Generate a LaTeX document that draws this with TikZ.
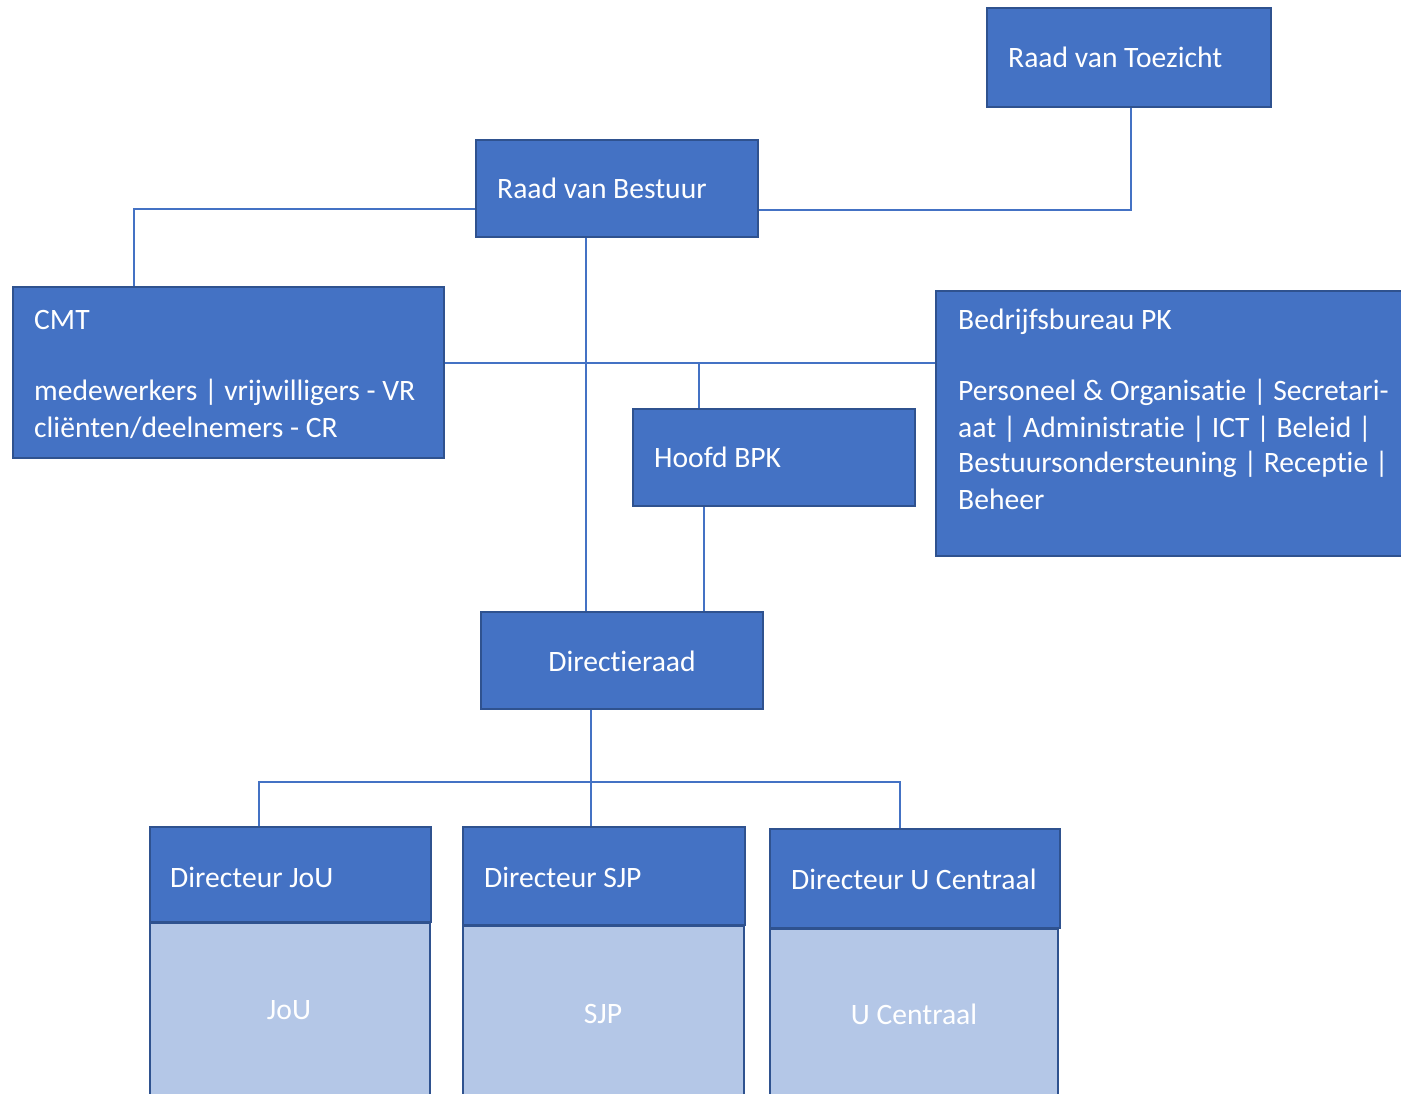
\documentclass[tikz,border=0pt]{standalone}
\usepackage{fontspec}
\setmainfont{Carlito}[Ligatures=NoCommon]
\definecolor{boxfill}{HTML}{4472C4}
\definecolor{boxedge}{HTML}{2F528F}
\definecolor{lightfill}{HTML}{B4C7E7}
\definecolor{linecol}{HTML}{4472C4}
\begin{document}
\begin{tikzpicture}[x=1pt,y=-1pt,
  box/.style={draw=boxedge, fill=boxfill, line width=2.5pt, inner sep=0pt},
  lowbox/.style={draw=boxedge, fill=lightfill, line width=2.5pt, inner sep=0pt},
  txt/.style={text=white, inner sep=0pt, anchor=base west, font=\fontsize{29.6}{36}\selectfont},
  ctxt/.style={text=white, inner sep=0pt, anchor=base, font=\fontsize{29.6}{36}\selectfont},
  conn/.style={draw=linecol, line width=1.3pt}]
\useasboundingbox (0,0) rectangle (1401,1094);
\fill[white] (0,0) rectangle (1401,1094);

% boxes
\node[box, minimum width=284pt, minimum height=99pt] (rvt) at (1129,57.5) {};
\node[box, minimum width=282pt, minimum height=97pt] (rvb) at (617,188.5) {};
\node[box, minimum width=431pt, minimum height=171pt] (cmt) at (228.5,372.5) {};
\node[box, minimum width=473pt, minimum height=265pt] (bb) at (1172.5,423.5) {};
\node[box, minimum width=282pt, minimum height=97pt] (hb) at (774,457.5) {};
\node[box, minimum width=282pt, minimum height=97pt] (dr) at (622,660.5) {};

\node[lowbox, minimum width=280pt, minimum height=187pt] (lj) at (290,1016.5) {};
\node[lowbox, minimum width=281pt, minimum height=184pt] (ls) at (603.5,1018) {};
\node[lowbox, minimum width=288pt, minimum height=181pt] (lu) at (914,1019.5) {};
\node[box, minimum width=281pt, minimum height=95pt] (dj) at (290.5,874.5) {};
\node[box, minimum width=282pt, minimum height=98pt] (ds) at (604,876) {};
\node[box, minimum width=290pt, minimum height=99pt] (du) at (915,878.5) {};

% texts
\node[txt] (rvtT) at (1008,68) {Raad van Toezicht};
\node[txt] (rvbT) at (497,199) {Raad van Bestuur};
\node[txt] (cmtT) at (34,329) {\parbox[t]{420pt}{\raggedright CMT\\[36pt]medewerkers | vrijwilligers - VR\\cliënten/deelnemers - CR}};
\node[txt] (bbT) at (958,329) {\parbox[t]{440pt}{\raggedright Bedrijfsbureau PK\\[36pt]Personeel \& Organisatie | Secretari-\\aat | Administratie | ICT | Beleid |\\Bestuursondersteuning | Receptie |\\Beheer}};
\node[txt] (hbT) at (654,467) {Hoofd BPK};
\node[ctxt] (drT) at (622,671) {Directieraad};
\node[txt] (djT) at (170,887) {Directeur JoU};
\node[txt] (dsT) at (484,887) {Directeur SJP};
\node[txt] (duT) at (791,889) {Directeur U Centraal};
\node[ctxt] (ljT) at (289,1019) {JoU};
\node[ctxt] (lsT) at (603,1023) {SJP};
\node[ctxt] (luT) at (914,1024) {U Centraal};

% connectors
\coordinate (j1) at (134,209);
\draw[conn] (rvb.west |- j1) -- (j1) -- (j1 |- cmt.north);
\coordinate (j2) at (1131,210);
\draw[conn] (rvb.east |- j2) -- (j2) -- (j2 |- rvt.south);
\coordinate (x1) at (586,0);
\draw[conn] (x1 |- rvb.south) -- (x1 |- dr.north);
\coordinate (h1) at (0,363);
\draw[conn] (cmt.east |- h1) -- (bb.west |- h1);
\coordinate (j3) at (699,363);
\draw[conn] (j3) -- (j3 |- hb.north);
\coordinate (x2) at (704,0);
\draw[conn] (x2 |- hb.south) -- (x2 |- dr.north);
\coordinate (j4) at (591,782);
\draw[conn] (j4 |- dr.south) -- (j4 |- ds.north);
\coordinate (a) at (259,782);
\coordinate (b) at (900,782);
\draw[conn] (a |- dj.north) -- (a) -- (b) -- (b |- du.north);
\end{tikzpicture}
\end{document}
